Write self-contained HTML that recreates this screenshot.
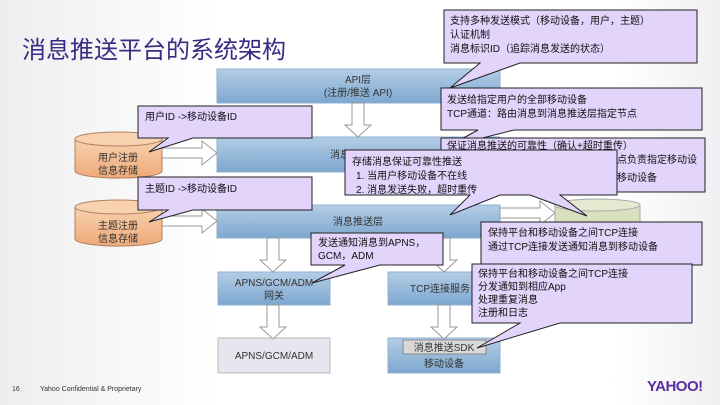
<!DOCTYPE html>
<html><head><meta charset="utf-8"><style>
html,body{margin:0;padding:0;background:#fff;}
svg{display:block;font-family:"Liberation Sans","Noto Sans CJK SC",sans-serif;}
</style></head><body>
<svg width="720" height="405" viewBox="0 0 720 405" xmlns="http://www.w3.org/2000/svg">
<defs>
<linearGradient id="bl" x1="0" y1="0" x2="0" y2="1"><stop offset="0" stop-color="#b4cde6"/><stop offset="1" stop-color="#7da7cf"/></linearGradient>
<linearGradient id="or" x1="0" y1="0" x2="0" y2="1"><stop offset="0" stop-color="#f8d2b0"/><stop offset="1" stop-color="#eea978"/></linearGradient>
<linearGradient id="bg" x1="0" y1="0" x2="1" y2="0"><stop offset="0" stop-color="#eeeef0"/><stop offset="0.3" stop-color="#fff"/><stop offset="0.85" stop-color="#fff"/><stop offset="1" stop-color="#f0f0f2"/></linearGradient>
</defs>
<rect width="720" height="405" fill="url(#bg)"/>
<text x="22" y="58" font-size="24" fill="#3c2a82">消息推送平台的系统架构</text>

<!-- layer boxes -->
<rect x="217" y="69" width="283" height="34" fill="url(#bl)" stroke="#8fb0d2"/>
<text x="358" y="83" font-size="10" fill="#333" text-anchor="middle">API层</text>
<text x="358" y="96" font-size="10" fill="#333" text-anchor="middle">(注册/推送 API)</text>
<rect x="217" y="137" width="283" height="35" fill="url(#bl)" stroke="#8fb0d2"/>
<text x="330" y="158" font-size="10" fill="#333">消息</text>
<rect x="217" y="205" width="283" height="33" fill="url(#bl)" stroke="#8fb0d2"/>
<text x="358" y="225" font-size="10" fill="#333" text-anchor="middle">消息推送层</text>
<rect x="218" y="272" width="112" height="33" fill="url(#bl)" stroke="#8fb0d2"/>
<text x="274" y="286" font-size="10" fill="#333" text-anchor="middle">APNS/GCM/ADM</text>
<text x="274" y="299" font-size="10" fill="#333" text-anchor="middle">网关</text>
<rect x="388" y="272" width="112" height="33" fill="url(#bl)" stroke="#8fb0d2"/>
<text x="410" y="292" font-size="10" fill="#333">TCP连接服务</text>
<rect x="218" y="338" width="112" height="35" fill="#e6e6ee" stroke="#bbb"/>
<text x="274" y="359" font-size="10" fill="#333" text-anchor="middle">APNS/GCM/ADM</text>
<rect x="388" y="338" width="112" height="35" fill="url(#bl)" stroke="#8fb0d2"/>
<rect x="403" y="340" width="83" height="14" fill="#d8d8d8" stroke="#888"/>
<text x="444" y="351" font-size="10" fill="#333" text-anchor="middle">消息推送SDK</text>
<text x="444" y="367" font-size="10" fill="#333" text-anchor="middle">移动设备</text>

<!-- hollow arrows -->
<g fill="#fff" stroke="#999" stroke-width="1">
<path d="M352 103 h12 v22 h7 l-13 12 l-13 -12 h7 z"/>
<path d="M267 238 h12 v22 h7 l-13 12 l-13 -12 h7 z"/>
<path d="M438 238 h12 v22 h7 l-13 12 l-13 -12 h7 z"/>
<path d="M267 305 h12 v22 h7 l-13 12 l-13 -12 h7 z"/>
<path d="M438 305 h12 v22 h7 l-13 12 l-13 -12 h7 z"/>
<path d="M160 148 h42 v-7 l15 12 l-15 12 v-7 h-42 z"/>
<path d="M160 216 h42 v-7 l15 12 l-15 12 v-7 h-42 z"/>
<path d="M500 208 h40 v-7 l15 12 l-15 12 v-7 h-40 z"/>
</g>

<!-- cylinders -->
<g stroke="#b08060">
<path d="M75 139 v32 a43 7 0 0 0 87 0 v-32" fill="url(#or)"/>
<ellipse cx="118.5" cy="139" rx="43.5" ry="7" fill="#f8d2b0"/>
<path d="M75 207 v32 a43 7 0 0 0 87 0 v-32" fill="url(#or)"/>
<ellipse cx="118.5" cy="207" rx="43.5" ry="7" fill="#f8d2b0"/>
</g>
<text x="118" y="161" font-size="10" fill="#333" text-anchor="middle">用户注册</text>
<text x="118" y="174" font-size="10" fill="#333" text-anchor="middle">信息存储</text>
<text x="118" y="229" font-size="10" fill="#333" text-anchor="middle">主题注册</text>
<text x="118" y="242" font-size="10" fill="#333" text-anchor="middle">信息存储</text>
<path d="M555 205 v25 h85 v-25" fill="#d9e0c0" stroke="#aaa"/>
<ellipse cx="597" cy="205" rx="43" ry="6" fill="#e4e9cf" stroke="#aaa"/>

<!-- callouts -->
<g fill="#e2d4fb" stroke="#222" stroke-width="1">
<path d="M444 10 H697 V63 H520 L450 88 L480 63 H444 Z"/>
<path d="M441 88 H702 V130 H514 L447 147 L478 130 H441 Z"/>
<path d="M441 138 H705 V192 H441 Z"/>
<path d="M138 106 H312 V138 H193 L149 152 L168 138 H138 Z"/>
<path d="M138 177 H312 V210 H193 L149 222 L168 210 H138 Z"/>
<path d="M345 150 H617 V195 H560 L587 216 L530 195 H500 L450 215 L470 195 H345 Z"/>
<path d="M311 233 H443 V265 H380 L312 283 L345 265 H311 Z"/>
<path d="M481 222 H702 V265 H481 Z"/>
<path d="M472 264 H692 V323 H560 L477 348 L520 323 H472 Z"/>
</g>
<g font-size="10" fill="#111">
<text x="450" y="24">支持多种发送模式（移动设备，用户，主题）</text>
<text x="450" y="38">认证机制</text>
<text x="450" y="52">消息标识ID（追踪消息发送的状态）</text>
<text x="447" y="103">发送给指定用户的全部移动设备</text>
<text x="447" y="117">TCP通道：路由消息到消息推送层指定节点</text>
<text x="447" y="149">保证消息推送的可靠性（确认+超时重传）</text>
<text x="617" y="163">点负责指定移动设</text>
<text x="617" y="181">移动设备</text>
<text x="145" y="120">用户ID -&gt;移动设备ID</text>
<text x="145" y="192">主题ID -&gt;移动设备ID</text>
<text x="352" y="165">存储消息保证可靠性推送</text>
<text x="356" y="179">1.  当用户移动设备不在线</text>
<text x="356" y="193">2.  消息发送失败，超时重传</text>
<text x="318" y="246">发送通知消息到APNS，</text>
<text x="318" y="259">GCM，ADM</text>
<text x="488" y="236">保持平台和移动设备之间TCP连接</text>
<text x="488" y="250">通过TCP连接发送通知消息到移动设备</text>
<text x="478" y="277">保持平台和移动设备之间TCP连接</text>
<text x="478" y="290">分发通知到相应App</text>
<text x="478" y="303">处理重复消息</text>
<text x="478" y="316">注册和日志</text>
</g>

<text x="12" y="391" font-size="7" fill="#333">16</text>
<text x="40" y="391" font-size="7" fill="#333">Yahoo Confidential &amp; Proprietary</text>
<text x="647" y="391" font-size="15" fill="#5a2ea0" font-weight="bold" letter-spacing="-0.5">YAHOO!</text>
</svg>
</body></html>
